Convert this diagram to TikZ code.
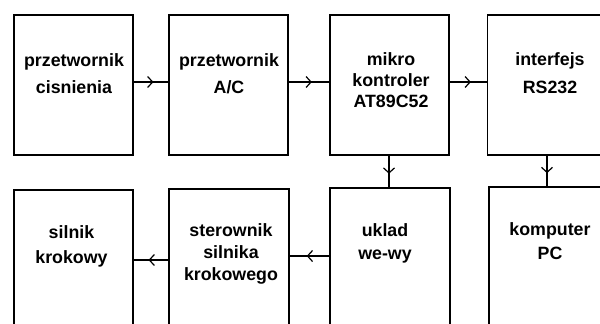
\documentclass[tikz,border=0pt]{standalone}
\usepackage{fontspec}
\setmainfont{Liberation Sans}
\usetikzlibrary{arrows.meta,decorations.markings}
\tikzset{
  box/.style={draw, line width=1.2pt, minimum width=119pt, inner sep=0pt},
  toprow/.style={box, minimum height=140pt},
  botrow/.style={box, minimum height=160pt},
  lbl/.style={align=center, inner sep=0pt, font=\bfseries\fontsize{17.8}{#1}\selectfont},
  conn/.style={line width=1.2pt, postaction={decorate},
    decoration={markings, mark=at position 0.57 with {\arrow{Straight Barb[length=5pt,width=11pt,line width=1.2pt]}}}}
}
\begin{document}
\begin{tikzpicture}[x=1pt,y=-1pt]
\useasboundingbox (0,0) rectangle (600,324);
\clip (0,0) rectangle (600,324);
\fill[white] (0,0) rectangle (600,324);
% top row
\node[toprow] (b1) at (73.5,85) {};
\node[toprow] (b2) at (228.5,85) {};
\node[toprow] (b3) at (389.5,85) {};
\node[toprow] (b4) at (547,85) {};
% bottom row
\node[botrow] (b5) at (73.5,270) {};
\node[botrow, minimum width=120pt] (b6) at (229,269) {};
\node[botrow, minimum width=120pt] (b7) at (390,268) {};
\node[botrow, minimum width=120pt] (b8) at (549,267) {};
% labels
\node[lbl=27] (t1) at (74,74) {przetwornik\\cisnienia};
\node[lbl=27] (t2) at (229,74) {przetwornik\\A/C};
\node[lbl=21] (t3) at (391,80.5) {mikro\\kontroler\\AT89C52};
\node[lbl=28] (t4) at (550,73.5) {interfejs\\RS232};
\node[lbl=25] (t5) at (71.5,246) {silnik\\krokowy};
\node[lbl=22] (t6) at (231,253.5) {sterownik\\silnika\\krokowego};
\node[lbl=23] (t7) at (385,243) {uklad\\we-wy};
\node[lbl=24] (t8) at (550,241.5) {komputer\\PC};
% connectors
\draw[conn] ([yshift=3pt]b1.east) -- ([yshift=3pt]b2.west);
\draw[conn] ([yshift=3pt]b2.east) -- ([yshift=3pt]b3.west);
\draw[conn] ([yshift=3pt]b3.east) -- ([yshift=3pt]b4.west);
\draw[conn] ([xshift=-0.5pt]b3.south) -- ([xshift=-0.5pt]b3.south |- b7.north);
\draw[conn] (b4.south) -- (b4.south |- b8.north);
\draw[conn] ([yshift=12pt]b7.west) -- ([yshift=12pt]b7.west -| b6.east);
\draw[conn] ([yshift=9pt]b6.west) -- ([yshift=9pt]b6.west -| b5.east);
\end{tikzpicture}
\end{document}
